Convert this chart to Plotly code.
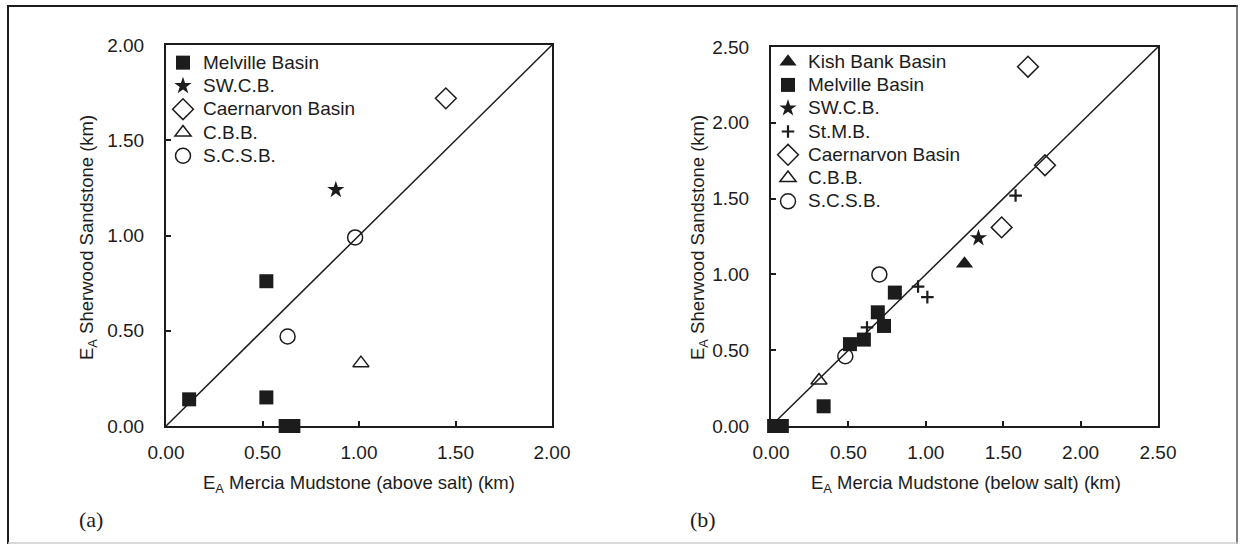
import plotly.graph_objects as go

# ---- Panel (a): E_A Mercia Mudstone (above salt) vs E_A Sherwood Sandstone ----
mel_a_x = [0.12, 0.52, 0.52, 0.62, 0.66]
mel_a_y = [0.14, 0.76, 0.15, 0.00, 0.00]
swcb_a_x = [0.88]
swcb_a_y = [1.24]
caer_a_x = [1.45]
caer_a_y = [1.72]
cbb_a_x = [1.01]
cbb_a_y = [0.33]
scsb_a_x = [0.98, 0.63]
scsb_a_y = [0.99, 0.47]

# ---- Panel (b): E_A Mercia Mudstone (below salt) vs E_A Sherwood Sandstone ----
kish_b_x = [1.25]
kish_b_y = [1.07]
mel_b_x = [0.02, 0.07, 0.34, 0.51, 0.60, 0.69, 0.73, 0.80]
mel_b_y = [0.00, 0.00, 0.13, 0.54, 0.57, 0.75, 0.66, 0.88]
swcb_b_x = [1.34]
swcb_b_y = [1.24]
stmb_b_x = [0.62, 0.95, 1.01, 1.58]
stmb_b_y = [0.65, 0.92, 0.85, 1.52]
caer_b_x = [1.66, 1.77, 1.49]
caer_b_y = [2.37, 1.72, 1.31]
cbb_b_x = [0.31]
cbb_b_y = [0.30]
scsb_b_x = [0.70, 0.48]
scsb_b_y = [1.00, 0.46]

# 1:1 reference lines
line_a = [0.0, 2.0]
line_b = [0.0, 2.5]

ticks_a = [0.0, 0.5, 1.0, 1.5, 2.0]
ticks_b = [0.0, 0.5, 1.0, 1.5, 2.0, 2.5]

INK = "#1c1c1c"
FONT = "Liberation Sans, Arial, Helvetica, sans-serif"
SERIF = "Liberation Serif, Times New Roman, serif"

STYLES = {
    "Kish Bank Basin": dict(symbol="triangle-up", size=15, color=INK, line=dict(width=0)),
    "Melville Basin": dict(symbol="square", size=14, color=INK, line=dict(width=0)),
    "SW.C.B.": dict(symbol="star", size=13, color=INK, line=dict(width=0)),
    "St.M.B.": dict(symbol="cross-thin-open", size=9, color=INK, line=dict(width=2.2, color=INK)),
    "Caernarvon Basin": dict(symbol="diamond-open", size=16, color=INK, line=dict(width=1.5, color=INK)),
    "C.B.B.": dict(symbol="triangle-up-open", size=14, color=INK, line=dict(width=1.5, color=INK)),
    "S.C.S.B.": dict(symbol="circle-open", size=15, color=INK, line=dict(width=1.5, color=INK)),
}

fig = go.Figure()


def add_line(vals, xa, ya):
    fig.add_trace(go.Scatter(x=vals, y=vals, mode="lines", xaxis=xa, yaxis=ya,
                             line=dict(color=INK, width=1.5), showlegend=False,
                             hoverinfo="skip"))


def add_group(name, xs, ys, xa, ya, legend):
    # legend rows stay compact while the entry text is drawn larger
    label = f"<span style='font-size:19px'>{name}</span>"
    fig.add_trace(go.Scatter(x=xs, y=ys, mode="markers", name=label, xaxis=xa, yaxis=ya,
                             marker=STYLES[name], cliponaxis=False, legend=legend,
                             hovertemplate=f"{name}<br>%{{x:.2f}}, %{{y:.2f}}<extra></extra>"))


add_line(line_a, "x", "y")
add_group("Melville Basin", mel_a_x, mel_a_y, "x", "y", "legend")
add_group("SW.C.B.", swcb_a_x, swcb_a_y, "x", "y", "legend")
add_group("Caernarvon Basin", caer_a_x, caer_a_y, "x", "y", "legend")
add_group("C.B.B.", cbb_a_x, cbb_a_y, "x", "y", "legend")
add_group("S.C.S.B.", scsb_a_x, scsb_a_y, "x", "y", "legend")

add_line(line_b, "x2", "y2")
add_group("Kish Bank Basin", kish_b_x, kish_b_y, "x2", "y2", "legend2")
add_group("Melville Basin", mel_b_x, mel_b_y, "x2", "y2", "legend2")
add_group("SW.C.B.", swcb_b_x, swcb_b_y, "x2", "y2", "legend2")
add_group("St.M.B.", stmb_b_x, stmb_b_y, "x2", "y2", "legend2")
add_group("Caernarvon Basin", caer_b_x, caer_b_y, "x2", "y2", "legend2")
add_group("C.B.B.", cbb_b_x, cbb_b_y, "x2", "y2", "legend2")
add_group("S.C.S.B.", scsb_b_x, scsb_b_y, "x2", "y2", "legend2")

W, H = 1240, 548


def px(x):
    return x / W


def py(y):
    return 1 - y / H


def axis(domain, ticks, rng, standoff):
    return dict(
        domain=domain, range=rng, tickvals=ticks, ticktext=[f"{t:.2f}" for t in ticks],
        showline=True, mirror=True, linecolor=INK, linewidth=2,
        ticks="inside", ticklen=5, tickwidth=1.5, tickcolor=INK,
        showgrid=False, zeroline=False, fixedrange=True, automargin=False,
        tickfont=dict(family=FONT, size=19, color=INK),
        ticklabelstandoff=standoff,
    )


ax_a_x = [px(166), px(552)]
ax_a_y = [py(426), py(45)]
ax_b_x = [px(771), px(1158)]
ax_b_y = [py(426), py(47)]

legend_common = dict(
    font=dict(family=FONT, size=15.6, color=INK), bgcolor="rgba(0,0,0,0)",
    borderwidth=0, xanchor="left", yanchor="top", itemsizing="trace",
    tracegroupgap=0, itemclick=False, itemdoubleclick=False,
)

TITLE_FONT = dict(family=FONT, size=18.5, color=INK)
annotations = [
    dict(text="E<sub>A</sub> Mercia Mudstone (above salt) (km)", x=px(359), y=py(484),
         xref="paper", yref="paper", showarrow=False, xanchor="center", yanchor="middle",
         font=TITLE_FONT),
    dict(text="E<sub>A</sub> Mercia Mudstone (below salt) (km)", x=px(966), y=py(484),
         xref="paper", yref="paper", showarrow=False, xanchor="center", yanchor="middle",
         font=TITLE_FONT),
    dict(text="E<sub>A</sub> Sherwood Sandstone (km)", x=px(88), y=py(238),
         xref="paper", yref="paper", showarrow=False, xanchor="center", yanchor="middle",
         textangle=-90, font=TITLE_FONT),
    dict(text="E<sub>A</sub> Sherwood Sandstone (km)", x=px(699), y=py(238),
         xref="paper", yref="paper", showarrow=False, xanchor="center", yanchor="middle",
         textangle=-90, font=TITLE_FONT),
    dict(text="(a)", x=px(77), y=py(519), xref="paper", yref="paper", showarrow=False,
         xanchor="left", yanchor="middle", font=dict(family=SERIF, size=22, color=INK)),
    dict(text="(b)", x=px(688), y=py(519), xref="paper", yref="paper", showarrow=False,
         xanchor="left", yanchor="middle", font=dict(family=SERIF, size=22, color=INK)),
]

# outer figure frame
frame = [
    dict(type="line", xref="paper", yref="paper", x0=px(8), x1=px(8), y0=py(5), y1=py(544),
         line=dict(color=INK, width=2)),
    dict(type="line", xref="paper", yref="paper", x0=px(8), x1=px(1238), y0=py(6), y1=py(6),
         line=dict(color=INK, width=2)),
    dict(type="line", xref="paper", yref="paper", x0=px(1237), x1=px(1237), y0=py(5), y1=py(544),
         line=dict(color="#555555", width=1.5)),
    dict(type="line", xref="paper", yref="paper", x0=px(8), x1=px(1238), y0=py(543), y1=py(543),
         line=dict(color="#cccccc", width=1.5)),
]

fig.update_layout(
    template="none",
    width=W, height=H, margin=dict(l=0, r=0, t=0, b=0, pad=0, autoexpand=False),
    paper_bgcolor="white", plot_bgcolor="white",
    font=dict(family=FONT, color=INK),
    xaxis=dict(axis(ax_a_x, ticks_a, [0, 2], 8), anchor="y"),
    yaxis=dict(axis(ax_a_y, ticks_a, [0, 2], 16), anchor="x"),
    xaxis2=dict(axis(ax_b_x, ticks_b, [0, 2.5], 8), anchor="y2"),
    yaxis2=dict(axis(ax_b_y, ticks_b, [0, 2.5], 16), anchor="x2"),
    legend=dict(legend_common, x=px(163), y=py(46)),
    legend2=dict(legend_common, x=px(768), y=py(45)),
    annotations=annotations,
    shapes=frame,
    showlegend=True,
)

fig.write_html("out.html", post_script="document.body.style.margin='0px';")
